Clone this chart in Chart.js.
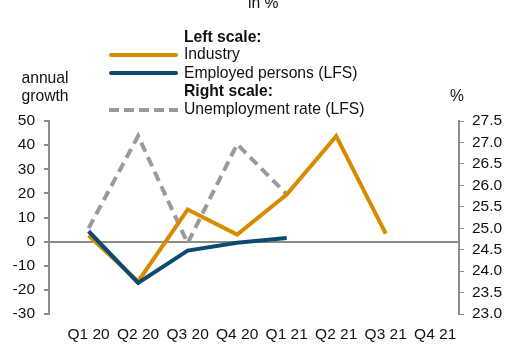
<!DOCTYPE html>
<html>
<head>
<meta charset="utf-8">
<script src="https://cdn.jsdelivr.net/npm/chart.js@4"></script>
<style>
  body { margin: 0; background: #fff; font-family: "Liberation Sans", Arial, sans-serif; color: #111; }
  #wrap { position: relative; width: 506px; height: 345px; overflow: hidden; }
  canvas { position: absolute; left: 0; top: 0; }
  .t { position: absolute; font-size: 15.7px; line-height: 18px; white-space: nowrap; }
  .b { font-weight: bold; }
  .sw { position: absolute; left: 109px; width: 69px; height: 4px; border-radius: 2px; }
</style>
</head>
<body>
<div id="wrap">
  <canvas id="c" width="506" height="345"></canvas>
  <div class="t" style="left:248px; top:-6px;">in %</div>
  <div class="t" style="left:20px; top:69px; text-align:center; width:50px;">annual<br>growth</div>
  <div class="t" style="left:450px; top:87px;">%</div>
  <div class="t b" style="left:184px; top:28px;">Left scale:</div>
  <div class="sw" style="top:53px; background:#D98B00;"></div>
  <div class="t" style="left:184px; top:45px;">Industry</div>
  <div class="sw" style="top:71px; background:#0C4A70;"></div>
  <div class="t" style="left:184px; top:64px;">Employed persons (LFS)</div>
  <div class="t b" style="left:184px; top:82px;">Right scale:</div>
  <div class="sw" style="top:108px; border-radius:0; background:repeating-linear-gradient(90deg,#9a9a9a 0 10px,transparent 10px 15px);"></div>
  <div class="t" style="left:184px; top:100px;">Unemployment rate (LFS)</div>
</div>
<script>
const quarters = ["Q1 20", "Q2 20", "Q3 20", "Q4 20", "Q1 21", "Q2 21", "Q3 21", "Q4 21"];
const industry = [2.5, -16.5, 13.3, 2.9, 19.5, 43.7, 3.3, null];
const employed = [4.3, -17.1, -3.7, -0.5, 1.5, null, null, null];
const unemployment = [25.0, 27.15, 24.65, 26.96, 25.79, null, null, null];
const leftTicks = [-30, 50, 10];
const rightTicks = [23.0, 27.5, 0.5];

const axisColor = "#8c8c8c";
const font = { family: "'Liberation Sans', Arial, sans-serif", size: 15.5 };

function pts(arr) {
  return arr.map((v, i) => ({ x: i, y: v }));
}

new Chart(document.getElementById("c"), {
  type: "line",
  data: {
    datasets: [
      { label: "Employed persons (LFS)", data: pts(employed), yAxisID: "y", borderColor: "#0C4A70", borderWidth: 4, order: 0 },
      { label: "Industry", data: pts(industry), yAxisID: "y", borderColor: "#D98B00", borderWidth: 4, order: 1 },
      { label: "Unemployment rate (LFS)", data: pts(unemployment), yAxisID: "y1", borderColor: "#9a9a9a", borderWidth: 4, borderDash: [10, 6], order: 2 },
    ],
  },
  options: {
    responsive: false,
    animation: false,
    layout: { padding: { top: 121, left: 0, right: 0, bottom: 0 } },
    elements: { point: { radius: 0 }, line: { tension: 0, borderCapStyle: "butt", borderJoinStyle: "miter" } },
    plugins: { legend: { display: false }, tooltip: { enabled: false } },
    scales: {
      x: {
        type: "linear",
        min: -0.8,
        max: 7.48,
        grid: { display: false },
        border: { display: false },
        afterBuildTicks: (s) => { s.ticks = quarters.map((q, i) => ({ value: i })); },
        afterFit: (s) => { s.height = 31; },
        ticks: { autoSkip: false, maxRotation: 0, padding: 3, color: "#111", font, callback: (v) => quarters[v] ?? "" },
      },
      y: {
        position: "left",
        min: leftTicks[0],
        max: leftTicks[1],
        afterFit: (s) => { s.width = 49; },
        border: { display: true, color: axisColor, width: 2 },
        grid: { drawOnChartArea: true, color: (c) => (c.tick && c.tick.value === 0 ? axisColor : "transparent"), lineWidth: 2, tickColor: axisColor, tickLength: 5 },
        ticks: { stepSize: leftTicks[2], autoSkip: false, padding: 9, color: "#111", font },
      },
      y1: {
        position: "right",
        min: rightTicks[0],
        max: rightTicks[1],
        afterFit: (s) => { s.width = 47; },
        border: { display: true, color: axisColor, width: 2 },
        grid: { drawOnChartArea: false, tickColor: axisColor, tickLength: 5 },
        ticks: { stepSize: rightTicks[2], autoSkip: false, padding: 8, color: "#111", font, callback: (v) => v.toFixed(1) },
      },
    },
  },
});
</script>
</body>
</html>
